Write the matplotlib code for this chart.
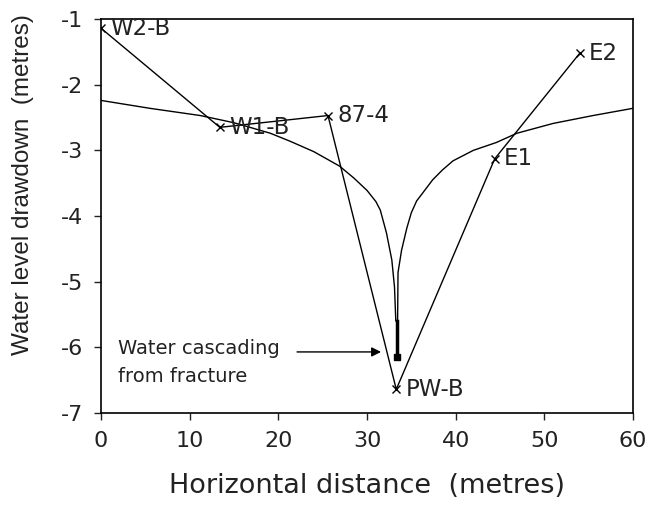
import matplotlib
matplotlib.use("Agg")
from matplotlib import pyplot as plt

# observed drawdown at the wells (sorted by distance)
well_names = ["W2-B", "W1-B", "87-4", "PW-B", "E1", "E2"]
well_x = [0.0, 13.4, 25.6, 33.3, 44.4, 54.0]
well_y = [-1.14, -2.65, -2.47, -6.64, -3.13, -1.52]

# theoretical cone of depression
curve_x = [0.0, 5.5, 11.2, 15.0, 19.1, 21.3, 24.0, 26.9, 28.5, 30.0, 31.0,
           31.5, 32.2, 32.8, 33.1, 33.25,
           33.45, 33.5, 33.9, 34.5, 35.0, 35.6, 36.0, 37.4, 38.5, 39.7,
           42.0, 44.6, 46.9, 51.0, 55.5, 60.0]
curve_y = [-2.24, -2.36, -2.47, -2.58, -2.74, -2.86, -3.02, -3.24, -3.42,
           -3.61, -3.78, -3.91, -4.26, -4.67, -5.08, -5.6,
           -5.6, -4.86, -4.52, -4.18, -3.95, -3.77, -3.70, -3.45, -3.3,
           -3.16, -3.0, -2.88, -2.74, -2.59, -2.47, -2.36]

# water cascading from the fracture into the pumping well
cascade_x = [33.35, 33.35]
cascade_y = [-5.6, -6.15]

xticks = [0, 10, 20, 30, 40, 50, 60]
yticks = [-1, -2, -3, -4, -5, -6, -7]

plt.rcParams["font.family"] = ["DejaVu Sans"]
plt.rcParams["axes.unicode_minus"] = False

fig = plt.figure(figsize=(6.49, 5.12), dpi=100)
ax = fig.add_axes([101 / 649, 1 - 413 / 512, 532 / 649, 394 / 512])

ax.plot(curve_x, curve_y, color="black", linewidth=1.0)
ax.plot(well_x, well_y, color="black", linewidth=1.0, marker="x",
        markersize=6, markeredgewidth=1.0)
ax.plot(cascade_x, cascade_y, color="black", linewidth=2.5)
ax.plot(cascade_x[1:], cascade_y[1:], marker="s", color="black", markersize=5)

for name, x, y in zip(well_names, well_x, well_y):
    ax.annotate(name, (x, y), xytext=(6.5, 0), textcoords="offset points",
                ha="left", va="center", fontsize=16.5, color="#222222")

ax.annotate("", xy=(31.9, -6.07), xytext=(21.8, -6.07),
            arrowprops=dict(arrowstyle="-|>", color="black", lw=1.0,
                            mutation_scale=14))
ax.text(1.9, -6.02, "Water cascading", fontsize=14, ha="left",
        va="center", color="#222222")
ax.text(1.9, -6.45, "from fracture", fontsize=14, ha="left",
        va="center", color="#222222")

ax.set_xlim(0, 60)
ax.set_ylim(-7, -1)
ax.set_xticks(xticks)
ax.set_yticks(yticks)
ax.tick_params(direction="out", length=5, width=1, labelsize=16,
               colors="#222222", pad=8)
for spine in ax.spines.values():
    spine.set_linewidth(1.2)

ax.set_xlabel("Horizontal distance  (metres)", fontsize=19.5, color="#222222",
              labelpad=16)
ax.set_ylabel("Water level drawdown  (metres)", fontsize=17.5,
              color="#222222", family="Liberation Sans")
ax.yaxis.set_label_coords(-0.125, 0.58)

plt.savefig("out.png", dpi=100)
